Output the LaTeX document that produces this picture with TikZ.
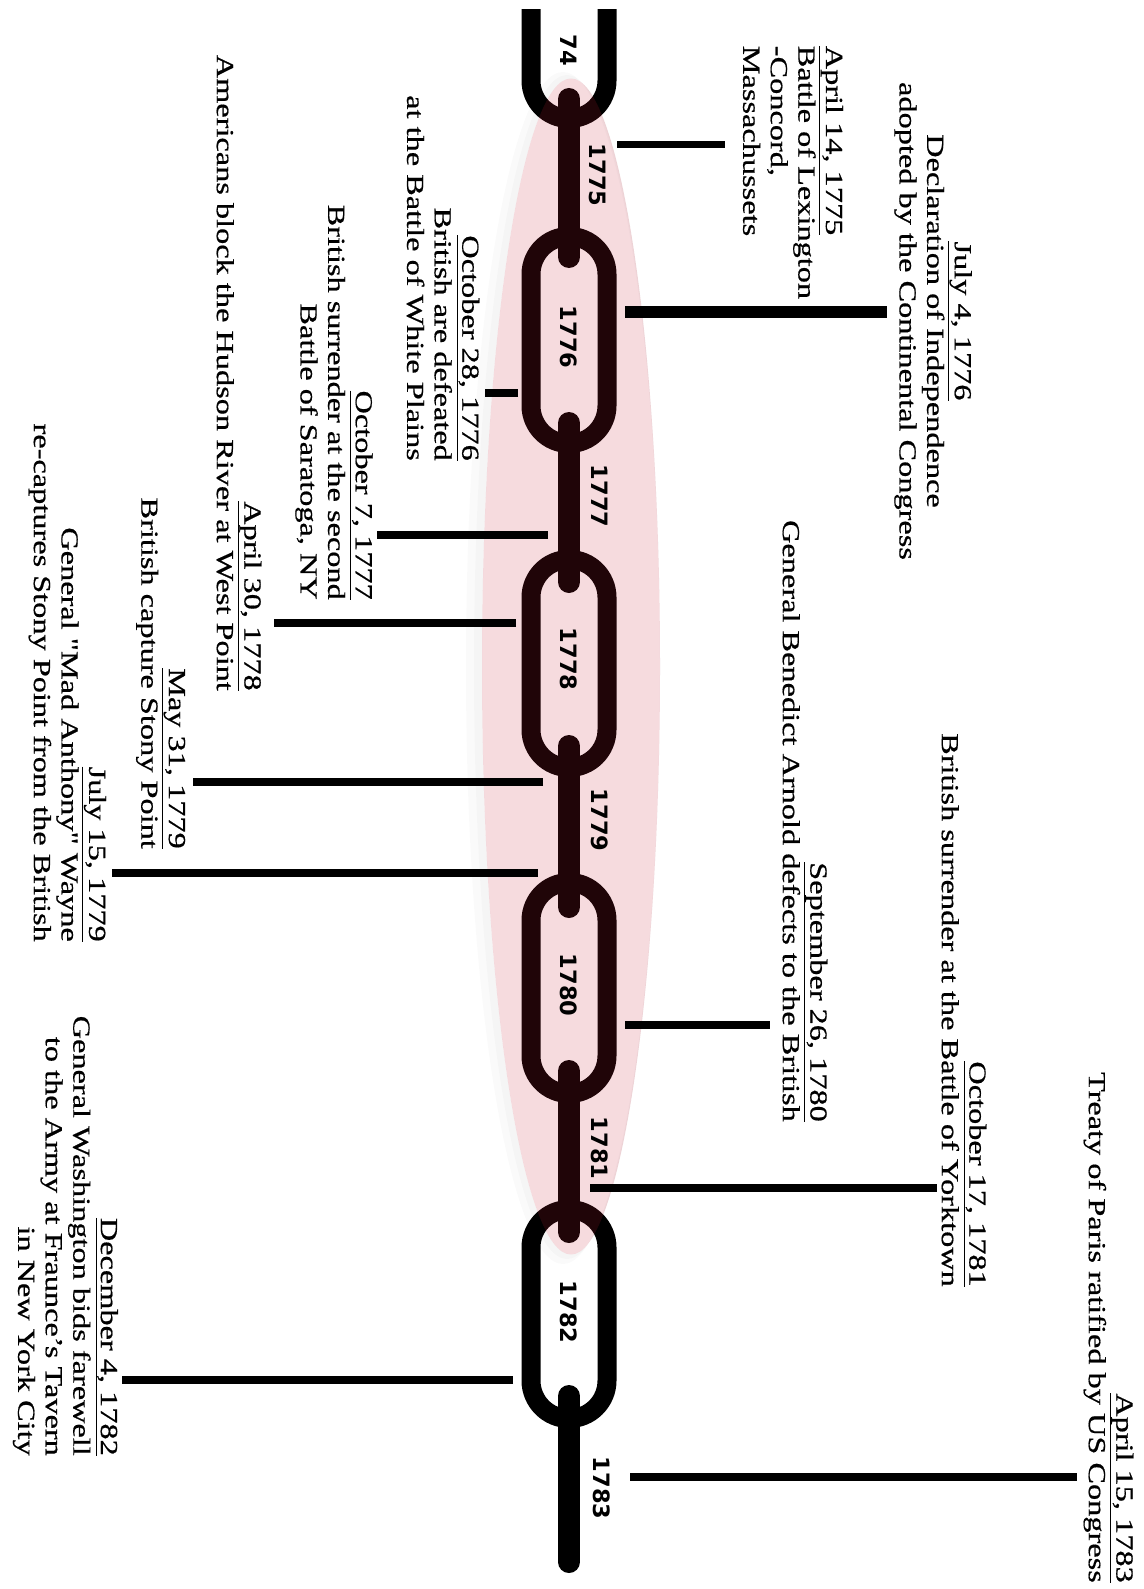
\documentclass[tikz,border=0pt]{standalone}
\usepackage{fontspec}
\setmainfont{Liberation Serif}[FakeStretch=1.32, FakeBold=0.6, Ligatures=TeXOff]
\newfontfamily\yearfont{DejaVu Sans}
\definecolor{pinkov}{RGB}{200,35,55}
\newcommand\evtsize{\fontsize{24.5}{27.6}\selectfont}
\tikzset{
  linkstyle/.style={line width=19pt, draw=black, rounded corners=37.9pt},
  barstyle/.style={line width=22pt, line cap=round, draw=black},
  conn/.style={line width=8pt, draw=black},
  evt/.style={rotate=-90, inner sep=0pt, font=\evtsize},
  yr/.style={rotate=-90, inner sep=0pt, font=\yearfont\bfseries\fontsize{22.5}{24}\selectfont},
}
\begin{document}
\begin{tikzpicture}[x=1pt,y=-1pt]
\useasboundingbox[fill=white] (0,0) rectangle (1143,1589);
% faint soft shadow of the highlight (outside it only)
\fill[black, opacity=0.018, even odd rule]
  (563,668) ellipse [x radius=97, y radius=596]
  (571,666.5) ellipse [x radius=89, y radius=588];
\fill[black, opacity=0.018, even odd rule]
  (567,667) ellipse [x radius=93, y radius=592]
  (571,666.5) ellipse [x radius=89, y radius=588];
% chain links
\begin{scope}
  \clip (0,10) rectangle (1143,1589);
  \draw[linkstyle] (531,-140) rectangle (607,118.5);
\end{scope}
\draw[linkstyle] (531,236.5) rectangle (607,443.5);
\draw[linkstyle] (531,559.5) rectangle (607,767.5);
\draw[linkstyle] (531,882.5) rectangle (607,1093.5);
\draw[linkstyle] (531,1209.5) rectangle (607,1418.5);
% bars (links seen edge-on)
\draw[barstyle] (569,99) -- (569,257);
\draw[barstyle] (569,423) -- (569,582);
\draw[barstyle] (569,746) -- (569,907);
\draw[barstyle] (569,1071) -- (569,1232);
\draw[barstyle] (569,1396) -- (569,1562);
% pink highlight
\fill[pinkov, opacity=0.16] (571,666.5) ellipse [x radius=89, y radius=588];
% year labels
\node[yr] (y74) at (569,50) {74};
\node[yr] (y1775) at (598,175) {1775};
\node[yr] (y1776) at (569,337) {1776};
\node[yr] (y1777) at (600,496) {1777};
\node[yr] (y1778) at (569,659) {1778};
\node[yr] (y1779) at (600,820) {1779};
\node[yr] (y1780) at (569,985) {1780};
\node[yr] (y1781) at (600,1148) {1781};
\node[yr] (y1782) at (569,1312) {1782};
\node[yr] (y1783) at (602,1488) {1783};
% events
\node[evt, anchor=west, align=left] (eA) at (793,45.6)
  {\underline{April 14, 1775}\\Battle of Lexington\\-Concord,\\Massachussets};
\node[evt, align=center] (eB) at (933,321)
  {\underline{July 4, 1776}\\Declaration of Independence\\adopted by the Continental Congress};
\node[evt, anchor=east, align=right] (eC) at (805,1122)
  {\underline{September 26, 1780}\\General Benedict Arnold defects to the British};
\node[evt, anchor=east, align=right] (eD) at (964,1287)
  {\underline{October 17, 1781}\\British surrender at the Battle of Yorktown};
\node[evt, anchor=east, align=right] (eE) at (1108.5,1583)
  {\underline{April 15, 1783}\\Treaty of Paris ratified by US Congress};
\node[evt, anchor=east, align=right] (eF) at (443,461)
  {\underline{October 28, 1776}\\British are defeated\\at the Battle of White Plains};
\node[evt, anchor=east, align=right] (eG) at (334,600)
  {\underline{October 7, 1777}\\British surrender at the second\\Battle of Saratoga, NY};
\node[evt, anchor=east, align=right] (eH) at (239,691)
  {\underline{April 30, 1778}\\Americans block the Hudson River at West Point};
\node[evt, anchor=east, align=right] (eI) at (160.6,849)
  {\underline{May 31, 1779}\\British capture Stony Point};
\node[evt, anchor=east, align=right] (eJ) at (67.4,942)
  {\underline{July 15, 1779}\\General "Mad Anthony" Wayne\\re-captures Stony Point from the British};
\node[evt, anchor=east, align=right] (eK) at (65.4,1456)
  {\underline{December 4, 1782}\\General Washington bids farewell\\to the Army at Fraunce’s Tavern\\in New York City};
% connector end points
\coordinate (a1) at (617,145);  \coordinate (b1) at (725,145);
\coordinate (a2) at (625,312);  \coordinate (b2) at (887,312);
\coordinate (a3) at (625,1025); \coordinate (b3) at (770,1025);
\coordinate (a4) at (590,1188); \coordinate (b4) at (937,1188);
\coordinate (a5) at (630,1477); \coordinate (b5) at (1077,1477);
\coordinate (a6) at (518,393);  \coordinate (b6) at (485,393);
\coordinate (a7) at (548,535);  \coordinate (b7) at (377,535);
\coordinate (a8) at (516,623);  \coordinate (b8) at (274,623);
\coordinate (a9) at (543,782);  \coordinate (b9) at (193,782);
\coordinate (a10) at (538,873); \coordinate (b10) at (112,873);
\coordinate (a11) at (513,1380); \coordinate (b11) at (122,1380);
\draw[conn, line width=7pt] (a1) -- (b1);
\draw[conn, line width=12pt] (a2) -- (b2);
\draw[conn] (a3) -- (b3);
\draw[conn] (a4) -- (b4);
\draw[conn] (a5) -- (b5);
\draw[conn] (a6) -- (b6);
\draw[conn] (a7) -- (b7);
\draw[conn] (a8) -- (b8);
\draw[conn] (a9) -- (b9);
\draw[conn] (a10) -- (b10);
\draw[conn] (a11) -- (b11);
\end{tikzpicture}
\end{document}
